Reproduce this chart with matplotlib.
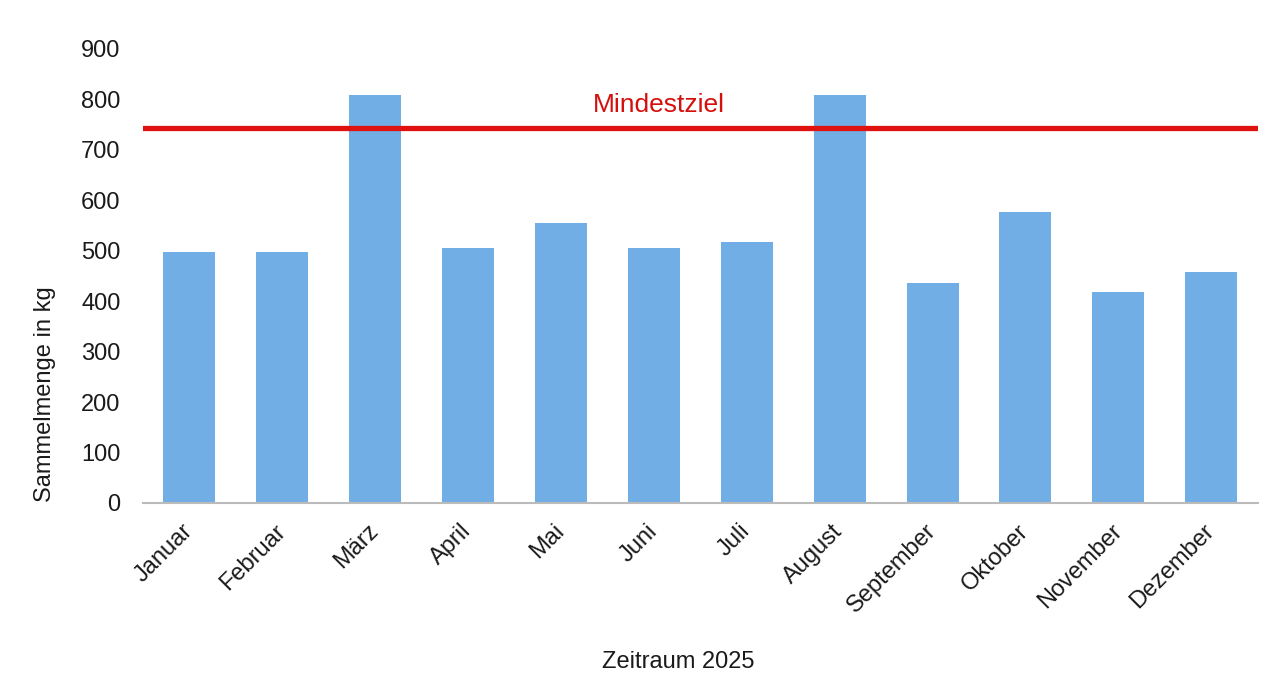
import matplotlib
matplotlib.use("Agg")
import matplotlib.pyplot as plt

months = ["Januar", "Februar", "März", "April", "Mai", "Juni", "Juli",
          "August", "September", "Oktober", "November", "Dezember"]
values = [498, 498, 809, 506, 556, 506, 517, 808, 436, 577, 418, 458]
target = 744
target_label = "Mindestziel"
yticks = [0, 100, 200, 300, 400, 500, 600, 700, 800, 900]

plt.rcParams['font.family'] = ['Liberation Sans', 'DejaVu Sans']

fig = plt.figure(figsize=(12.82, 6.85), dpi=100)
ax = fig.add_axes([0.1115, 0.2657, 0.8695, 0.6628])

x = list(range(len(months)))
ax.bar(x, values, width=0.56, color='#72AEE6', zorder=2)
ax.plot([-0.5, len(months) - 0.5], [target, target], color='#E0120F',
        linewidth=3.8, solid_capstyle='round', zorder=3)
ax.text(5.05, target + 22, target_label, color='#D40F0C', fontsize=19,
        ha='center', va='bottom', zorder=4)

ax.set_xlim(-0.5, len(months) - 0.5)
ax.set_ylim(0, 900)
ax.set_yticks(yticks)
ax.set_yticklabels([str(v) for v in yticks], fontsize=17, color='#1a1a1a')
ax.set_xticks(x)
ax.set_xticklabels(months, rotation=45, ha='right', va='center',
                   rotation_mode='anchor', fontsize=17, color='#1a1a1a')
ax.tick_params(axis='both', length=0)
ax.tick_params(axis='y', pad=16)
ax.tick_params(axis='x', pad=18)

for s in ['top', 'right', 'left']:
    ax.spines[s].set_visible(False)
ax.spines['bottom'].set_color('#BBBBBB')
ax.spines['bottom'].set_linewidth(1.5)

fig.text(45 / 1282, 1 - 394 / 685, "Sammelmenge in kg", rotation=90,
         ha='center', va='center', fontsize=17, color='#1a1a1a')
fig.text(678 / 1282, 1 - 662 / 685, "Zeitraum 2025", ha='center',
         va='center', fontsize=17, color='#1a1a1a')

fig.savefig("out.png", dpi=100, facecolor='white')
